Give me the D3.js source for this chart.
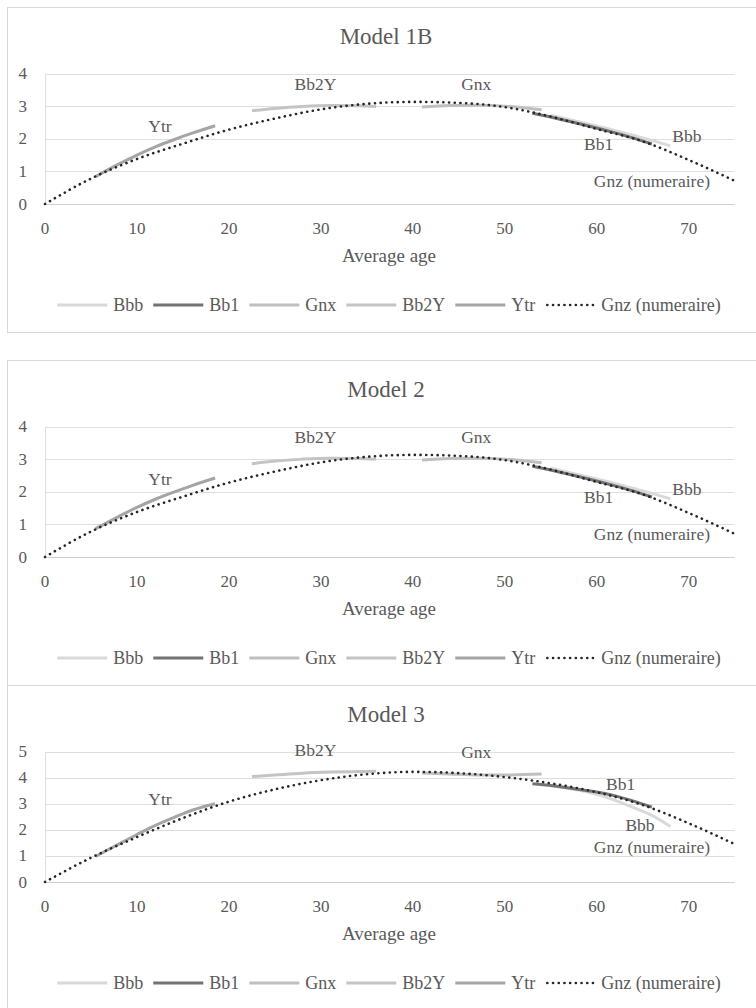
<!DOCTYPE html>
<html lang="en">
<head>
<meta charset="UTF-8">
<title>Model 1B, Model 2, Model 3</title>
<script src="https://d3js.org/d3.v7.min.js"></script>
<style>
  body { margin: 0; background: #fff; }
  svg text { font-family: 'Liberation Serif', 'DejaVu Serif', serif; fill: #595959; }
</style>
</head>
<body>
<svg id="chart" width="756" height="1008"></svg>
<script>
// --- Data ---
const seriesNames = ['Bbb', 'Bb1', 'Gnx', 'Bb2Y', 'Ytr', 'Gnz (numeraire)'];
const modelTitles = ['Model 1B', 'Model 2', 'Model 3'];
const xTicks = [0, 10, 20, 30, 40, 50, 60, 70];
const yTicksSmall = [0, 1, 2, 3, 4];
const yTicksLarge = [0, 1, 2, 3, 4, 5];

// ages (x) for each series
const bbbAge  = [55, 58, 61, 64, 66, 68];
const bb1Age  = [53, 56, 59, 62, 64, 66];
const gnxAge  = [41, 44, 47, 50, 52, 54];
const bb2yAge = [22.5, 25, 28, 31, 34, 36];
const ytrAge  = [5.5, 8, 10, 12, 14, 16, 18.5];
const gnzAge  = [0, 5, 10, 15, 20, 25, 30, 35, 40, 45, 50, 55, 60, 65, 70, 75];

// Model 1B
const bbb1  = [2.72, 2.52, 2.32, 2.10, 1.95, 1.78];
const bb11  = [2.78, 2.60, 2.40, 2.18, 2.02, 1.84];
const gnx1  = [2.97, 3.02, 3.03, 3.00, 2.95, 2.89];
const bb2y1 = [2.86, 2.93, 2.99, 3.02, 3.01, 2.99];
const ytr1  = [0.84, 1.22, 1.50, 1.75, 1.97, 2.17, 2.40];
const gnz1  = [0, 0.78, 1.38, 1.85, 2.28, 2.62, 2.90, 3.07, 3.13, 3.10, 2.97, 2.68, 2.30, 1.92, 1.35, 0.71];

// Model 2
const bbb2  = [2.72, 2.52, 2.32, 2.10, 1.95, 1.78];
const bb12  = [2.78, 2.60, 2.40, 2.18, 2.02, 1.84];
const gnx2  = [2.97, 3.02, 3.03, 3.00, 2.95, 2.89];
const bb2y2 = [2.86, 2.94, 3.00, 3.03, 3.02, 3.00];
const ytr2  = [0.87, 1.24, 1.52, 1.77, 1.99, 2.19, 2.42];
const gnz2  = [0, 0.78, 1.38, 1.85, 2.28, 2.62, 2.90, 3.07, 3.13, 3.10, 2.97, 2.68, 2.30, 1.92, 1.35, 0.71];

// Model 3
const bbb3  = [3.70, 3.52, 3.25, 2.85, 2.55, 2.13];
const bb13  = [3.76, 3.65, 3.50, 3.30, 3.10, 2.87];
const gnx3  = [4.18, 4.14, 4.10, 4.10, 4.12, 4.14];
const bb2y3 = [4.04, 4.10, 4.17, 4.21, 4.23, 4.24];
const ytr3  = [0.98, 1.45, 1.82, 2.17, 2.47, 2.75, 3.00];
const gnz3  = [0, 0.93, 1.72, 2.45, 3.08, 3.55, 3.90, 4.13, 4.22, 4.17, 4.02, 3.78, 3.44, 2.95, 2.25, 1.45];

// data label anchors, in chart units [age, value]
const labels1 = [[69.8, 2.09], [60.2, 1.85], [46.9, 3.68], [29.4, 3.68], [12.5, 2.40], [66.0, 0.71]];
const labels2 = [[69.8, 2.09], [60.2, 1.85], [46.9, 3.68], [29.4, 3.68], [12.5, 2.40], [66.0, 0.71]];
const labels3 = [[64.7, 2.17], [62.6, 3.76], [46.9, 4.98], [29.4, 5.04], [12.5, 3.19], [66.0, 1.34]];

// --- Styles ---
const colors = ['#d9d9d9', '#737373', '#bfbfbf', '#c4c4c4', '#a5a5a5', '#262626'];
const panelTops = [7, 360, 685];
const panelHeight = 325;
const plotTop = 66.5, plotBottom = 197;
const plotLeft = 45, plotRight = 734.7;

const ages = [bbbAge, bb1Age, gnxAge, bb2yAge, ytrAge, gnzAge];
const models = [
    { title: modelTitles[0], yTicks: yTicksSmall, values: [bbb1, bb11, gnx1, bb2y1, ytr1, gnz1], labels: labels1 },
    { title: modelTitles[1], yTicks: yTicksSmall, values: [bbb2, bb12, gnx2, bb2y2, ytr2, gnz2], labels: labels2 },
    { title: modelTitles[2], yTicks: yTicksLarge, values: [bbb3, bb13, gnx3, bb2y3, ytr3, gnz3], labels: labels3 }
];

const svg = d3.select('#chart');
const x = d3.scaleLinear().domain([0, 75]).range([plotLeft, plotRight]);

function drawModel(model, i) {
    const g = svg.append('g').attr('transform', `translate(0,${panelTops[i]})`);

    g.append('rect')
        .attr('x', 7.5).attr('y', 0.5)
        .attr('width', 760).attr('height', panelHeight)
        .attr('fill', '#fff').attr('stroke', '#d9d9d9');

    const y = d3.scaleLinear()
        .domain([0, d3.max(model.yTicks)])
        .range([plotBottom, plotTop]);

    // gridlines
    g.selectAll('.grid').data(model.yTicks).enter().append('line')
        .attr('x1', plotLeft).attr('x2', plotRight)
        .attr('y1', d => Math.round(y(d)) + 0.5).attr('y2', d => Math.round(y(d)) + 0.5)
        .attr('stroke', d => d === 0 ? '#cfcfcf' : '#dedede').attr('stroke-width', 1);
    g.append('line')
        .attr('x1', plotLeft + 0.5).attr('x2', plotLeft + 0.5)
        .attr('y1', y(d3.max(model.yTicks))).attr('y2', y(0))
        .attr('stroke', '#dedede');

    // tick labels
    g.selectAll('.ytick').data(model.yTicks).enter().append('text')
        .attr('x', 27).attr('y', d => y(d))
        .attr('text-anchor', 'end').attr('dominant-baseline', 'central')
        .style('font-size', '17px')
        .text(d => d);
    g.selectAll('.xtick').data(xTicks).enter().append('text')
        .attr('x', d => x(d)).attr('y', plotBottom + 24)
        .attr('text-anchor', 'middle').attr('dominant-baseline', 'central')
        .style('font-size', '17px')
        .text(d => d);

    // title and axis title
    g.append('text')
        .attr('x', 386).attr('y', plotTop - 37)
        .attr('text-anchor', 'middle').attr('dominant-baseline', 'central')
        .style('font-size', '23px')
        .text(model.title);
    g.append('text')
        .attr('x', 389).attr('y', plotBottom + 51)
        .attr('text-anchor', 'middle').attr('dominant-baseline', 'central')
        .style('font-size', '19px')
        .text('Average age');

    // series
    const line = d3.line()
        .x(d => x(d[0])).y(d => y(d[1]))
        .curve(d3.curveMonotoneX);

    model.values.forEach((vals, s) => {
        const pts = ages[s].map((a, k) => [a, vals[k]]);
        const path = g.append('path')
            .attr('d', line(pts))
            .attr('fill', 'none')
            .attr('stroke', colors[s]);
        if (s === 5) {
            path.attr('stroke-width', 2.6)
                .attr('stroke-linecap', 'round')
                .attr('stroke-dasharray', '0.1 5.6');
        } else {
            path.attr('stroke-width', 3);
        }
    });

    // data labels
    g.selectAll('.dlabel').data(model.labels).enter().append('text')
        .attr('x', d => x(d[0])).attr('y', d => y(d[1]))
        .attr('text-anchor', 'middle').attr('dominant-baseline', 'central')
        .style('font-size', '17.5px')
        .text((d, k) => seriesNames[k]);

    // legend
    const legend = g.append('g');
    let cursor = 0;
    seriesNames.forEach((name, s) => {
        const item = legend.append('g').attr('transform', `translate(${cursor},0)`);
        const sample = item.append('line')
            .attr('x1', 0).attr('x2', 50).attr('y1', 0).attr('y2', 0)
            .attr('stroke', colors[s]);
        if (s === 5) {
            sample.attr('stroke-width', 2.6).attr('stroke-linecap', 'round')
                .attr('stroke-dasharray', '0.1 5.6').attr('x1', 2).attr('x2', 48);
        } else {
            sample.attr('stroke-width', 3);
        }
        const t = item.append('text')
            .attr('x', 56).attr('y', 0)
            .attr('dominant-baseline', 'central')
            .style('font-size', '18px')
            .text(name);
        cursor += 56 + t.node().getComputedTextLength() + 10;
    });
    const legendWidth = cursor - 10;
    legend.attr('transform', `translate(${389 - legendWidth / 2},${plotBottom + 101})`);
}

models.forEach(drawModel);
</script>
</body>
</html>
